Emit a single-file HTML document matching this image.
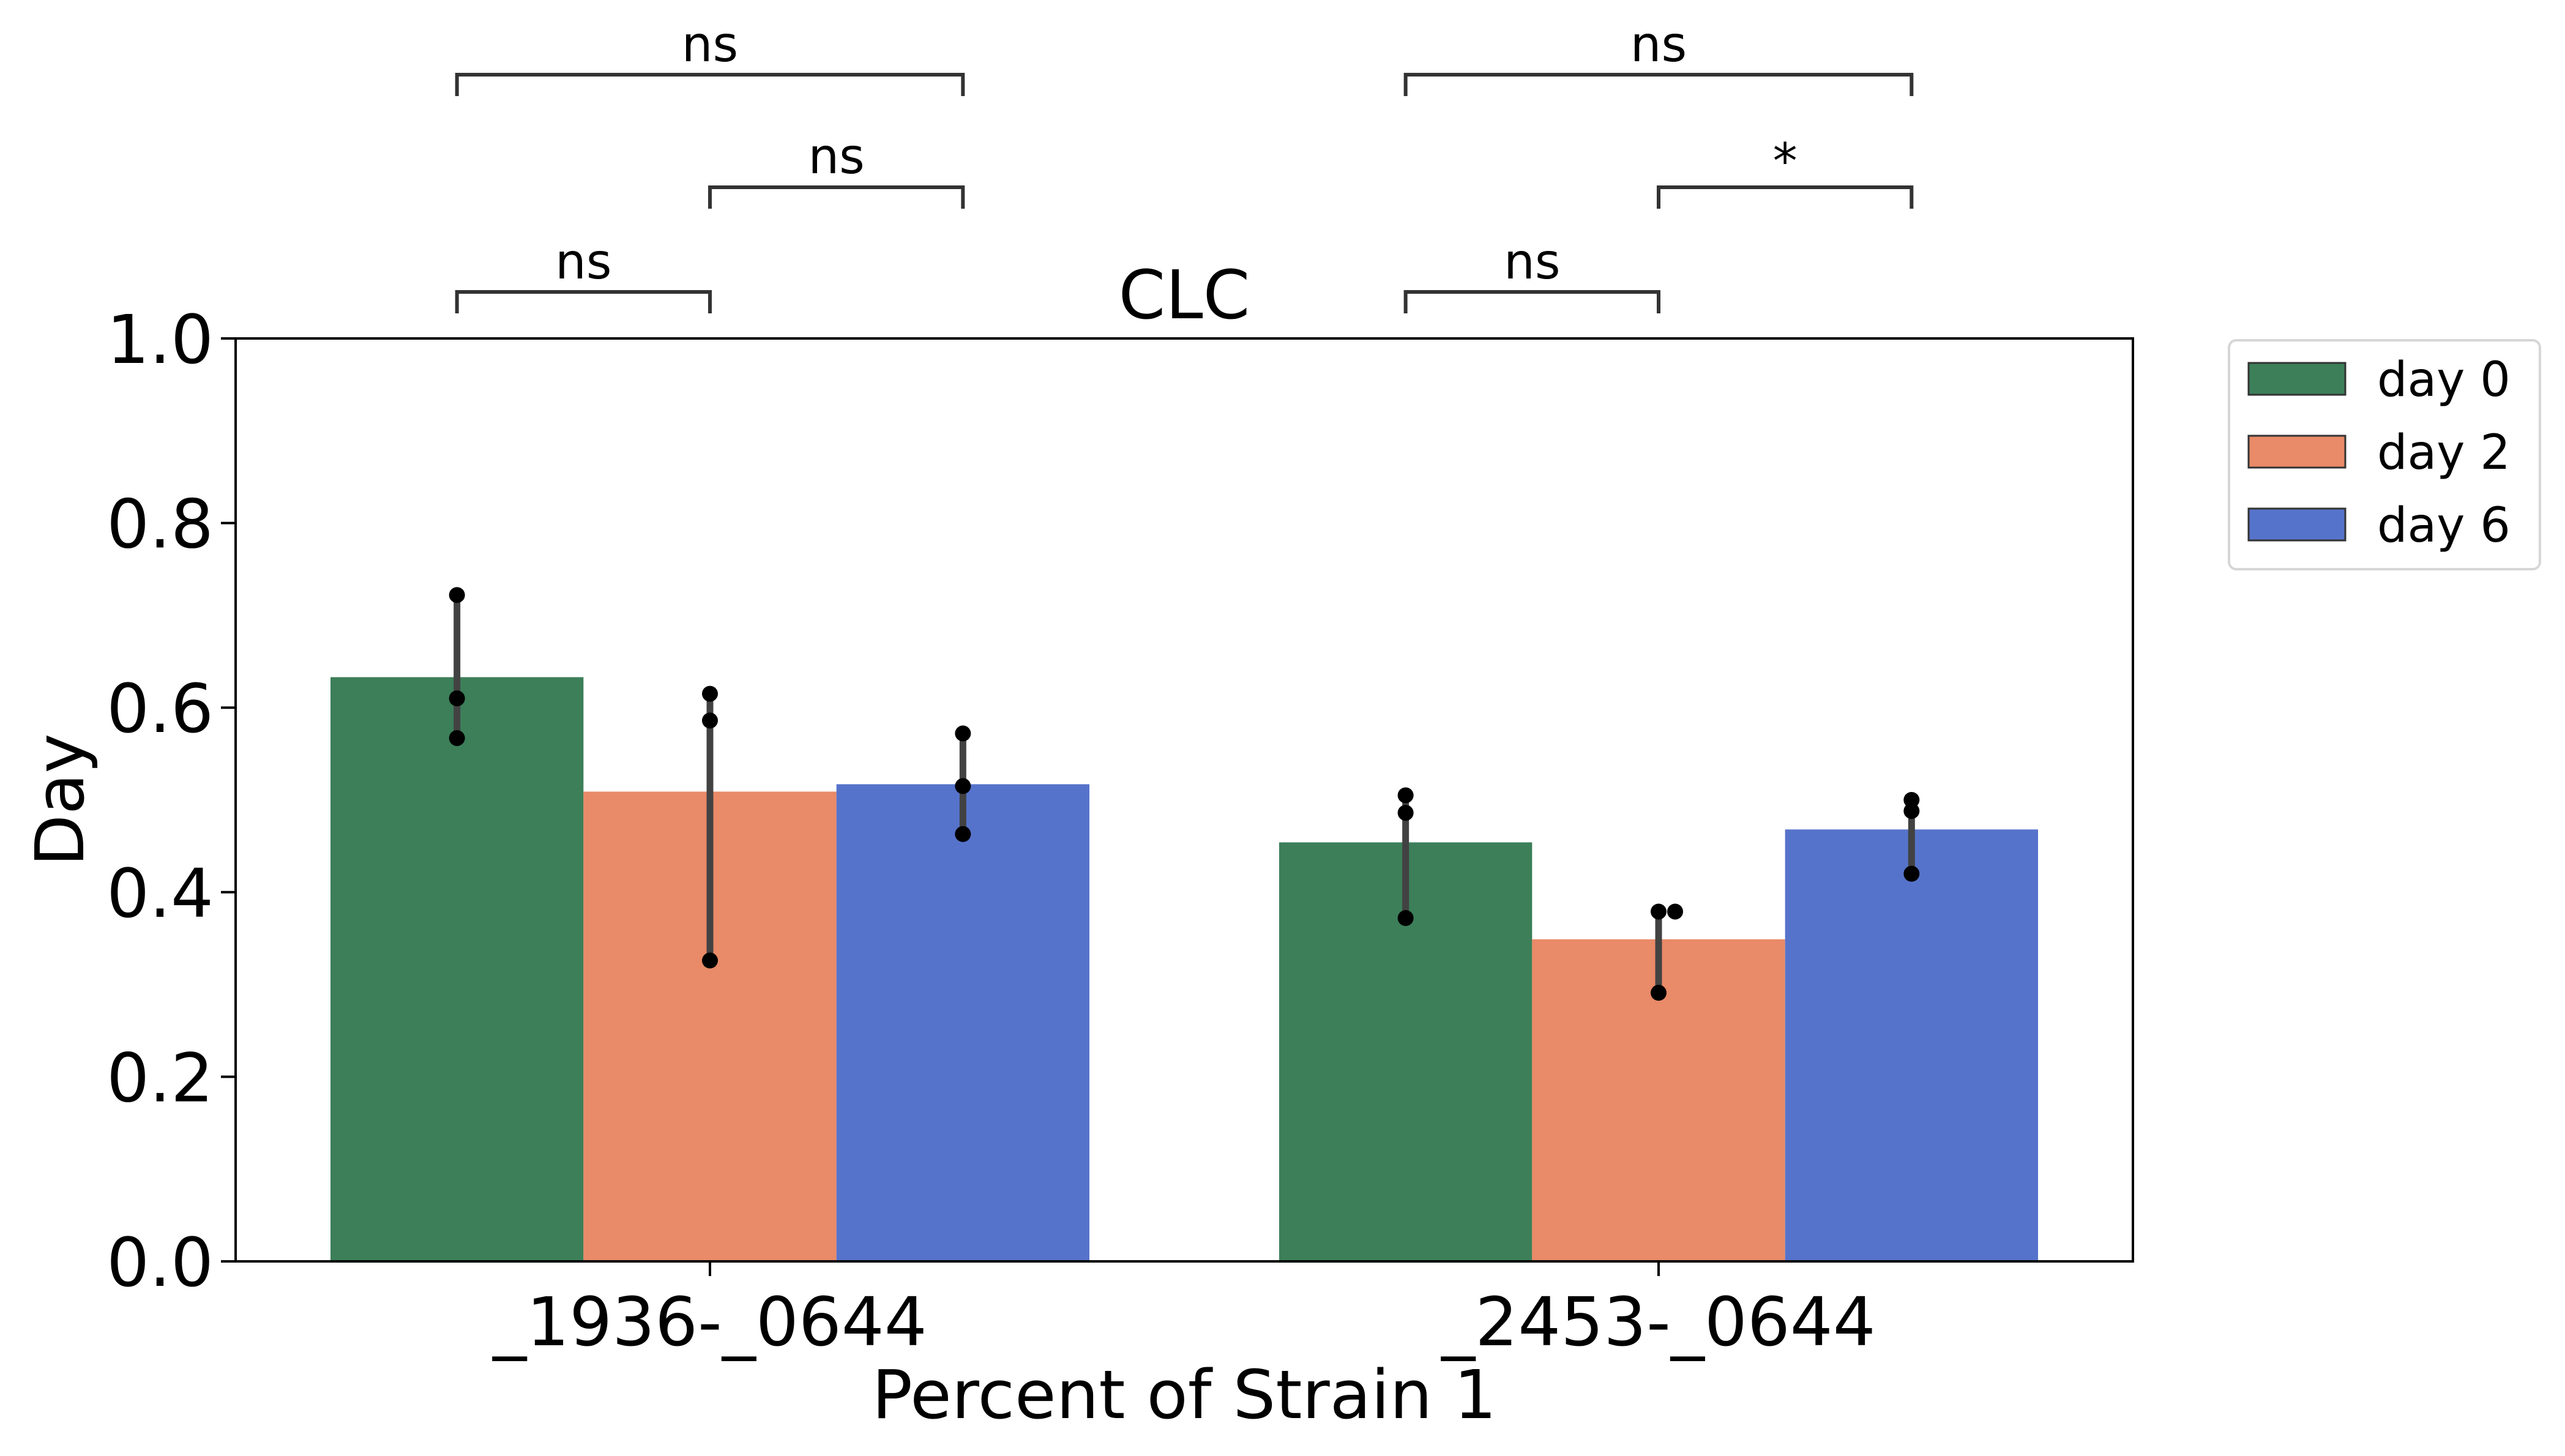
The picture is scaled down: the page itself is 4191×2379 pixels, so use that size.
<!DOCTYPE html>
<html><head><meta charset="utf-8"><style>
html,body{margin:0;padding:0;background:#fff;}
svg{display:block;font-family:"DejaVu Sans","Liberation Sans",sans-serif;}
</style></head><body>
<svg id="chart" width="4191" height="2379" viewBox="0 0 4191 2379" xmlns="http://www.w3.org/2000/svg">
<g id="bars"></g>
<g id="errs"></g>
<g id="dots"></g>
<g id="axes"></g>
<g id="brackets"></g>
<text x="1935" y="520" font-size="110" text-anchor="middle">CLC</text>
<text x="1935" y="2317" font-size="110" text-anchor="middle">Percent of Strain 1</text>
<text x="0" y="0" font-size="110" text-anchor="middle" transform="translate(136,1307) rotate(-90)">Day</text>
<g>
<rect x="3642" y="556" width="508" height="374" rx="12" fill="#fff" stroke="#d6d6d6" stroke-width="4"/>
<g id="legendItems"></g>
</g>
</svg>
<script>
const categories = ["_1936-_0644", "_2453-_0644"];
const seriesNames = ["day 0", "day 2", "day 6"];
const colors = ["#3c7f59", "#e98a68", "#5673cb"];
const day0 = [0.633, 0.454];
const day2 = [0.509, 0.349];
const day6 = [0.517, 0.468];
const errLow = [[0.567, 0.372], [0.326, 0.291], [0.463, 0.420]];
const errHigh = [[0.722, 0.505], [0.615, 0.379], [0.572, 0.500]];
const pointsDay0 = [[0.722, 0.610, 0.567], [0.505, 0.486, 0.372]];
const pointsDay2 = [[0.615, 0.586, 0.326], [0.379, 0.379, 0.291]];
const pointsDay6 = [[0.572, 0.515, 0.463], [0.500, 0.488, 0.420]];
const yTicks = [0.0, 0.2, 0.4, 0.6, 0.8, 1.0];
const yTickLabels = ["0.0", "0.2", "0.4", "0.6", "0.8", "1.0"];
const sigLabels = [["ns", "ns", "ns"], ["ns", "*", "ns"]];

const NS = "http://www.w3.org/2000/svg";
const L = 385, R = 3485, T = 553, B = 2061;
const groupW = (R - L) / categories.length;
const barW = groupW * 0.8 / 3;
const xCenter = i => L + groupW * (i + 0.5);
const xBar = (i, s) => xCenter(i) + (s - 1) * barW;
const y = v => B - v * (B - T);
function el(tag, attrs, parent, txt) {
  const e = document.createElementNS(NS, tag);
  for (const k in attrs) e.setAttribute(k, attrs[k]);
  if (txt !== undefined) e.textContent = txt;
  parent.appendChild(e); return e;
}
const series = [day0, day2, day6];
const points = [pointsDay0, pointsDay2, pointsDay6];
const gb = document.getElementById('bars'), ge = document.getElementById('errs'), gd = document.getElementById('dots');
for (let s = 0; s < 3; s++) {
  for (let i = 0; i < categories.length; i++) {
    const b = el('rect', {x: xBar(i, s) - barW / 2, y: y(series[s][i]), width: barW, height: y(0) - y(series[s][i]), fill: colors[s]}, gb);
    
    
    const e = el('line', {x1: xBar(i, s), x2: xBar(i, s), y1: y(errLow[s][i]), y2: y(errHigh[s][i]), stroke: '#424242', 'stroke-width': 11}, ge);
    
    
    const pts = points[s][i];
    pts.forEach((v, k) => {
      let dx = 0;
      for (let j = 0; j < k; j++) if (Math.abs(pts[j] - v) < 0.004) dx += 27;
      const c = el('circle', {cx: xBar(i, s) + dx, cy: y(v), r: 13, fill: '#000'}, gd);
      
      
    });
  }
}
const ga = document.getElementById('axes');
const frame = el('rect', {x: L, y: T, width: R - L, height: B - T, fill: 'none', stroke: '#000', 'stroke-width': 4}, ga);


yTicks.forEach((v, k) => {
  const t = el('line', {x1: L - 24, x2: L, y1: y(v), y2: y(v), stroke: '#000', 'stroke-width': 4}, ga);
  
  
  const tl = el('text', {x: L - 36, y: y(v) + 40, 'font-size': 110, 'text-anchor': 'end'}, ga, yTickLabels[k]);
  
  
});
categories.forEach((c, i) => {
  const t = el('line', {x1: xCenter(i), x2: xCenter(i), y1: B, y2: B + 24, stroke: '#000', 'stroke-width': 4}, ga);
  
  
  const tl = el('text', {x: xCenter(i), y: 2198, 'font-size': 110, 'text-anchor': 'middle'}, ga, c);
  
  
});
const gbr = document.getElementById('brackets');
const levels = [{y: 122, ty: 100, a: 0, b: 2}, {y: 306, ty: 283, a: 1, b: 2}, {y: 477, ty: 455, a: 0, b: 1}];
categories.forEach((c, i) => {
  levels.forEach((lv, k) => {
    const x1 = xBar(i, lv.a), x2 = xBar(i, lv.b);
    const p = el('path', {d: `M${x1},${lv.y + 35} L${x1},${lv.y} L${x2},${lv.y} L${x2},${lv.y + 35}`, fill: 'none', stroke: '#333', 'stroke-width': 6}, gbr);
    
    
    const t = el('text', {x: (x1 + x2) / 2, y: sigLabels[i][k] === '*' ? lv.ty + 8 : lv.ty, 'font-size': 80, 'text-anchor': 'middle'}, gbr, sigLabels[i][k]);
    
    
  });
});
const gl = document.getElementById('legendItems');
seriesNames.forEach((n, s) => {
  const cy = 619 + s * 119;
  const r = el('rect', {x: 3674, y: cy - 26, width: 158, height: 52, fill: colors[s], stroke: '#333', 'stroke-width': 3}, gl);
  
  
  const t = el('text', {x: 3884, y: cy + 28, 'font-size': 78}, gl, n);
  
  
});
</script>
</body></html>
